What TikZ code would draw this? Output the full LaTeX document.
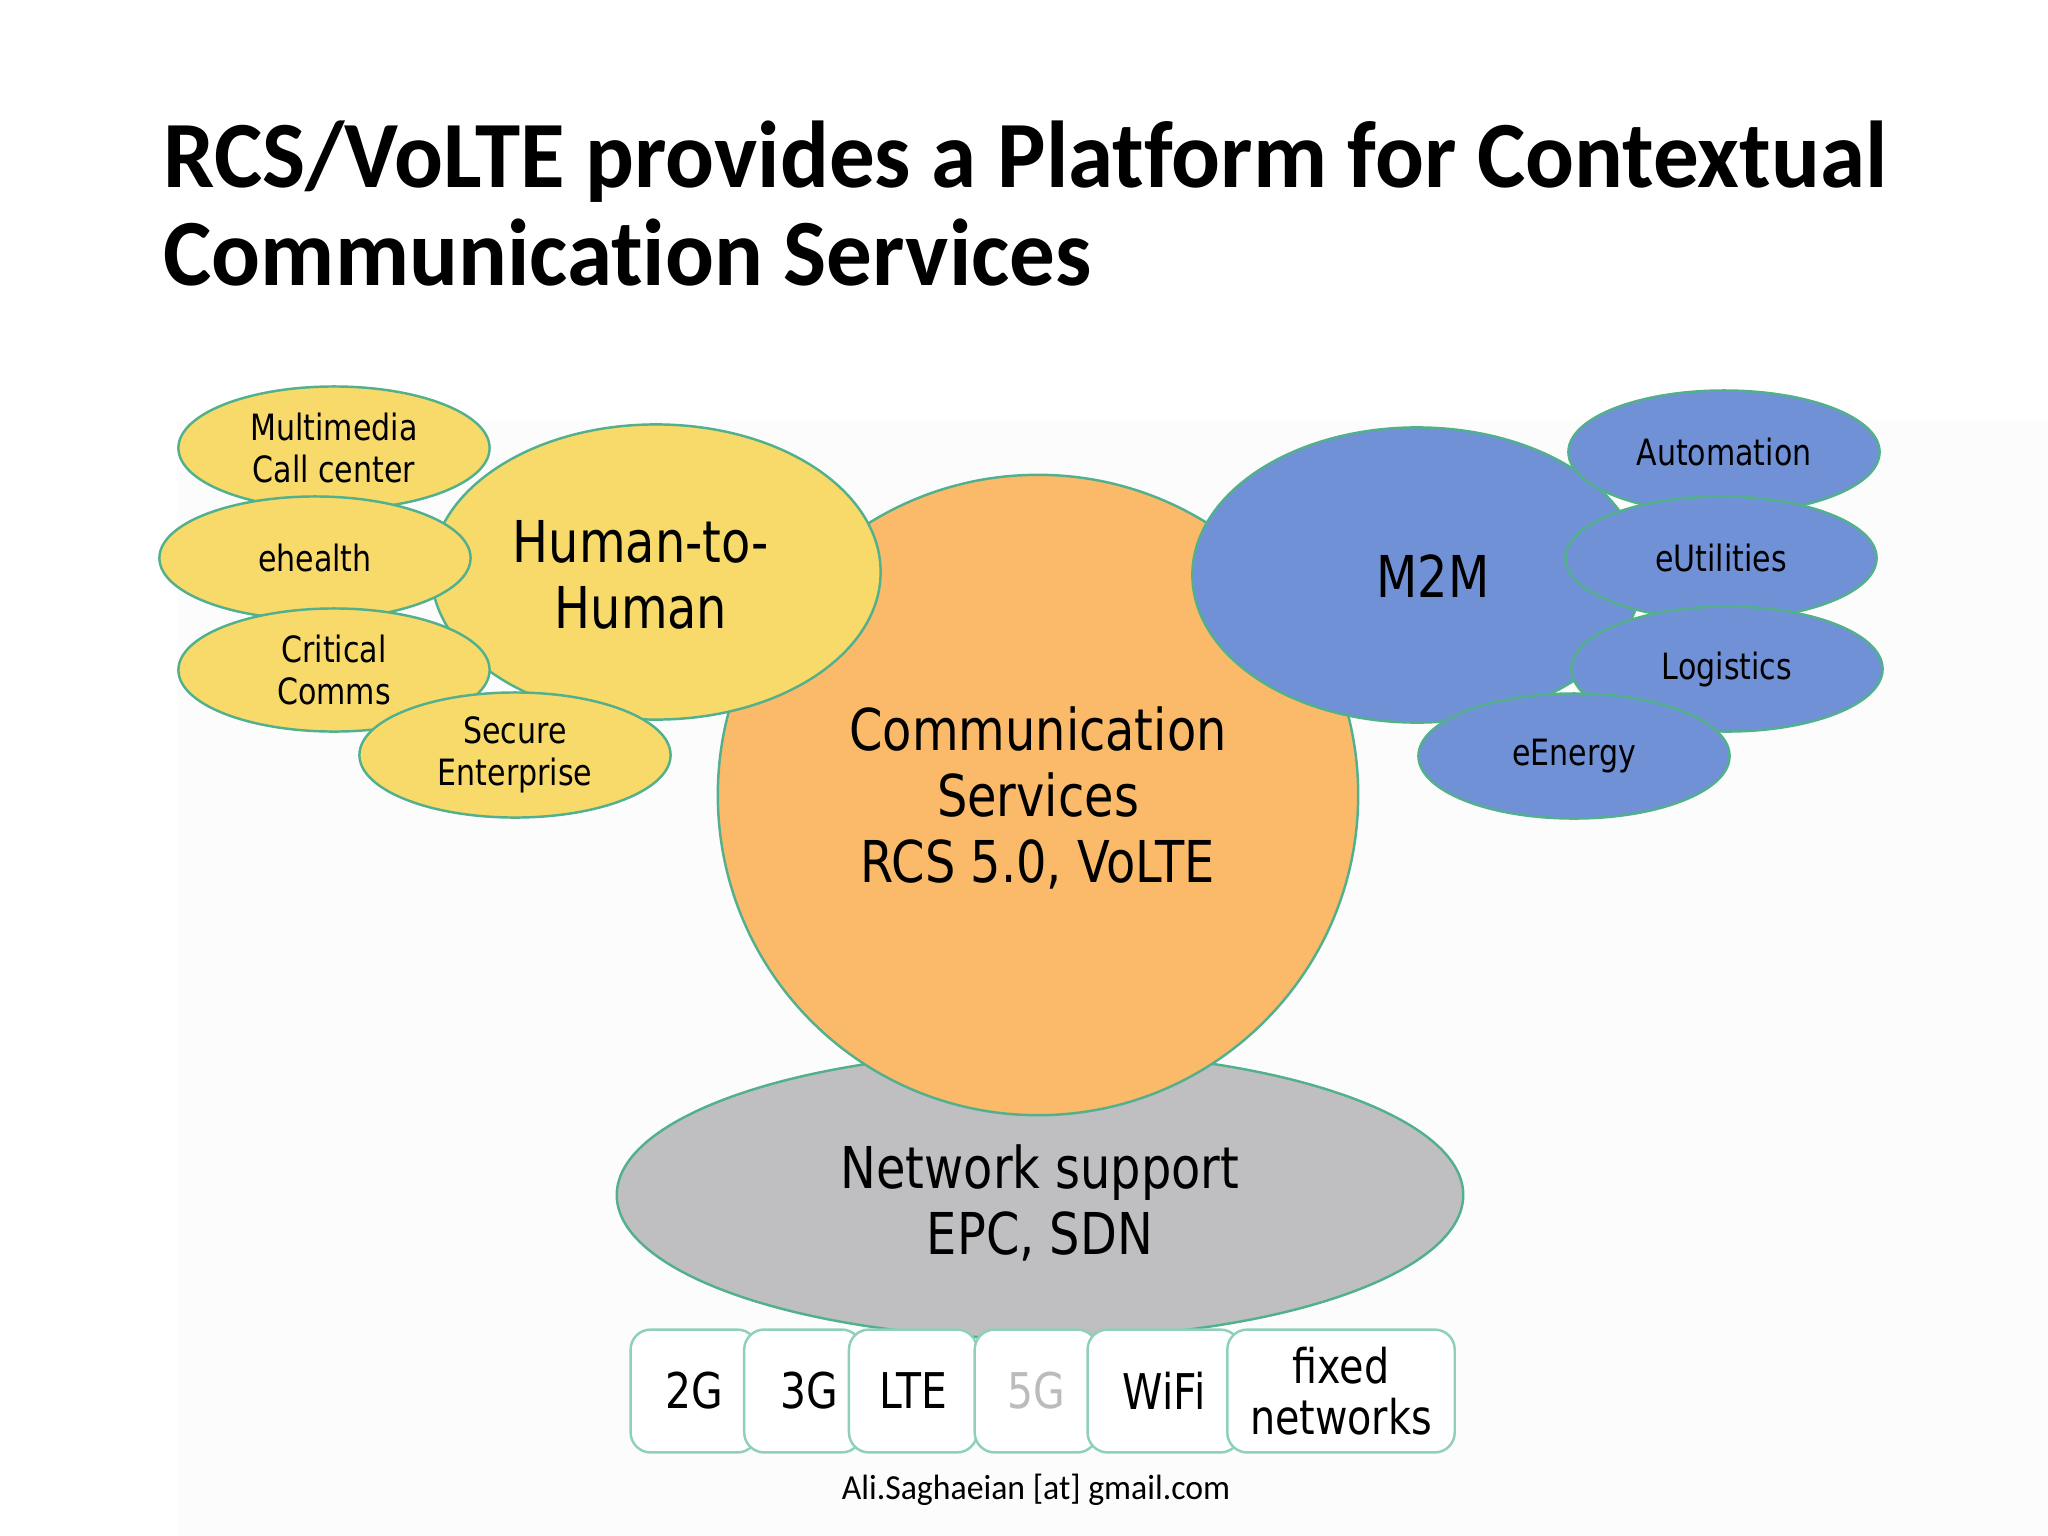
\documentclass[tikz,border=0pt]{standalone}
\usepackage{fontspec}
\setmainfont{Carlito}
\newfontfamily\titlefont[FakeStretch=0.96, Ligatures=NoCommon]{Carlito}
\newfontfamily\dfont[FakeStretch=0.83]{DejaVu Sans}
\usetikzlibrary{shapes.geometric}
\definecolor{yelfill}{HTML}{F8DA6B}
\definecolor{orfill}{HTML}{FBBA6A}
\definecolor{blfill}{HTML}{7191D7}
\definecolor{grfill}{HTML}{BFBFC1}
\definecolor{edgecol}{HTML}{52B08C}
\definecolor{boxedge}{HTML}{8FD0B8}
\definecolor{bgfaint}{HTML}{FCFCFD}
\definecolor{fivegray}{HTML}{BBBBBB}
\begin{document}
\begin{tikzpicture}[x=0.01cm,y=-0.01cm,
  ell/.style={ellipse, draw=edgecol, line width=0.7pt, inner sep=0pt},
  yellipse/.style={ell, fill=yelfill},
  bellipse/.style={ell, fill=blfill},
  smallell/.style={minimum width=3.11cm, minimum height=1.23cm},
  stxt/.style={font=\dfont\fontsize{10.3}{11.8}\selectfont, align=center, text=black},
  btxt/.style={font=\dfont\fontsize{16.4}{18.8}\selectfont, align=center, text=black},
  titletxt/.style={anchor=base west, inner sep=0pt, font=\titlefont\bfseries\fontsize{27}{30}\selectfont},
  netbox/.style={rectangle, draw=boxedge, fill=white, rounded corners=0.2cm, line width=0.7pt,
    minimum height=1.228cm, inner sep=0pt, font=\dfont\fontsize{14}{14.6}\selectfont, align=center},
]
\useasboundingbox (0,0) rectangle (2048,1536);
\fill[white] (0,0) rectangle (2048,1536);
\fill[bgfaint] (177,420) rectangle (2048,1536);

% title
\node[titletxt] (title1) at (163,187) {RCS/VoLTE provides a Platform for Contextual};
\node[titletxt] (title2) at (163,285) {Communication Services};

% network support
\node[ell, fill=grfill, minimum width=8.46cm, minimum height=2.87cm] (net) at (1040,1195) {};
\node[btxt] (nettxt) at (1040,1203) {Network support\\EPC, SDN};

% communication services
\node[circle, draw=edgecol, fill=orfill, line width=0.7pt, minimum size=6.40cm, inner sep=0pt] (comm) at (1038,795) {};
\node[btxt] (commtxt) at (1038,798) {Communication\\Services\\RCS 5.0, VoLTE};

% human-to-human cluster
\node[yellipse, minimum width=4.49cm, minimum height=2.95cm] (h2h) at (656,572) {};
\node[btxt] (h2htxt) at (641,575) {Human-to-\\Human};
\node[yellipse, smallell, stxt] (mm) at (334,448) {Multimedia\\Call center};
\node[yellipse, smallell, stxt] (eh) at (315,558) {ehealth};
\node[yellipse, smallell, stxt] (cc) at (334,670) {Critical\\Comms};
\node[yellipse, smallell, stxt, minimum height=1.25cm] (se) at (515,755) {Secure\\Enterprise};

% machine-to-machine cluster
\node[bellipse, minimum width=4.49cm, minimum height=2.95cm] (m2m) at (1417,575) {};
\node[btxt] (m2mtxt) at (1433,576) {M2M};
\node[bellipse, smallell, stxt] (auto) at (1724,452) {Automation};
\node[bellipse, smallell, stxt] (eut) at (1721,558) {eUtilities};
\node[bellipse, smallell, stxt, minimum height=1.25cm] (log) at (1727,669) {Logistics};
\node[bellipse, smallell, stxt, minimum height=1.25cm] (een) at (1574,756) {eEnergy};

% access networks
\node[netbox, minimum width=1.267cm] (g2) at (694,1391) {2G};
\node[netbox, minimum width=1.175cm] (g3) at (803,1391) {\hspace*{0.12cm}3G};
\node[netbox, minimum width=1.28cm] (lte) at (913,1391) {LTE};
\node[netbox, minimum width=1.226cm, text=fivegray] (g5) at (1036,1391) {5G};
\node[netbox, minimum width=1.528cm] (wifi) at (1164,1391) {WiFi};
\node[netbox, minimum width=2.273cm, font=\dfont\fontsize{13.6}{14.4}\selectfont] (fixed) at (1341,1391) {fixed\\networks};

% footer
\node[anchor=base, inner sep=0pt, font=\titlefont\fontsize{10}{12}\selectfont] (foot) at (1036,1499) {Ali.Saghaeian [at] gmail.com};
\end{tikzpicture}
\end{document}
